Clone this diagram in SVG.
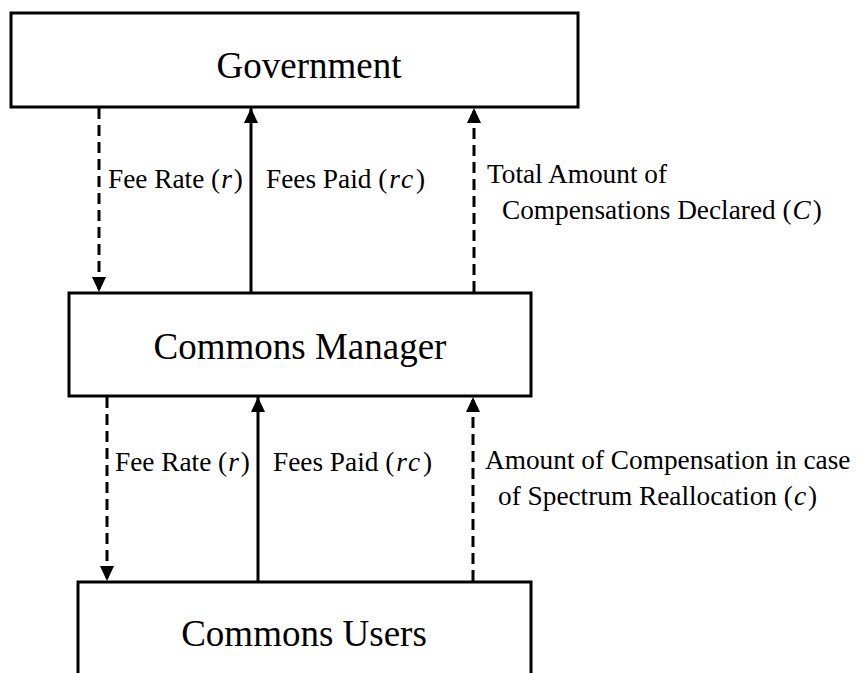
<svg xmlns="http://www.w3.org/2000/svg" width="865" height="673" viewBox="0 0 865 673">
<defs>
<style>
.box{fill:#fff;stroke:#000;stroke-width:3}
.title{font-family:'Liberation Serif','Times New Roman','DejaVu Serif',serif;font-size:37px;fill:#000;text-anchor:middle}
.lbl{font-family:'Liberation Serif','Times New Roman','DejaVu Serif',serif;font-size:27.3px;fill:#000}
.m{font-style:italic;letter-spacing:2px}
.solid{stroke:#000;stroke-width:3;fill:none}
.dash{stroke:#000;stroke-width:3;fill:none;stroke-dasharray:11 6}
</style>
<marker id="ah" viewBox="0 0 15 14" refX="15" refY="7" markerWidth="15" markerHeight="14" markerUnits="userSpaceOnUse" orient="auto">
<path d="M0,0 L15,7 L0,14 Z" fill="#000"/>
</marker>
</defs>
<rect width="865" height="673" fill="#fff"/>
<g id="connectors">
<line class="dash" x1="99" y1="108" x2="99" y2="292" marker-end="url(#ah)"/>
<line class="solid" x1="251" y1="292" x2="251" y2="108" marker-end="url(#ah)"/>
<line class="dash" x1="474" y1="292" x2="474" y2="108" marker-end="url(#ah)"/>
<line class="dash" x1="107" y1="397" x2="107" y2="581" marker-end="url(#ah)"/>
<line class="solid" x1="258" y1="581" x2="258" y2="397" marker-end="url(#ah)"/>
<line class="dash" x1="473" y1="581" x2="473" y2="397" marker-end="url(#ah)"/>
</g>
<g id="government">
<rect class="box" x="11" y="13" width="567" height="94"/>
<text class="title" x="309" y="78">Government</text>
</g>
<g id="commons-manager">
<rect class="box" x="69" y="293" width="462" height="103"/>
<text class="title" x="300" y="359">Commons Manager</text>
</g>
<g id="commons-users">
<rect class="box" x="78" y="582" width="453" height="100"/>
<text class="title" x="304" y="646">Commons Users</text>
</g>
<g id="labels">
<text class="lbl" x="108" y="188">Fee Rate (<tspan class="m" dx="1">r</tspan>)</text>
<text class="lbl" x="266" y="188">Fees Paid (<tspan class="m" dx="2">rc</tspan><tspan dx="1">)</tspan></text>
<text class="lbl" x="487" y="183">Total Amount of</text>
<text class="lbl" x="502" y="219">Compensations Declared (<tspan class="m" dx="1">C</tspan>)</text>
<text class="lbl" x="115" y="471">Fee Rate (<tspan class="m" dx="1">r</tspan>)</text>
<text class="lbl" x="273" y="471">Fees Paid (<tspan class="m" dx="2">rc</tspan><tspan dx="1">)</tspan></text>
<text class="lbl" x="485" y="469">Amount of Compensation in case</text>
<text class="lbl" x="498" y="505">of Spectrum Reallocation (<tspan class="m" dx="1">c</tspan>)</text>
</g>
</svg>
